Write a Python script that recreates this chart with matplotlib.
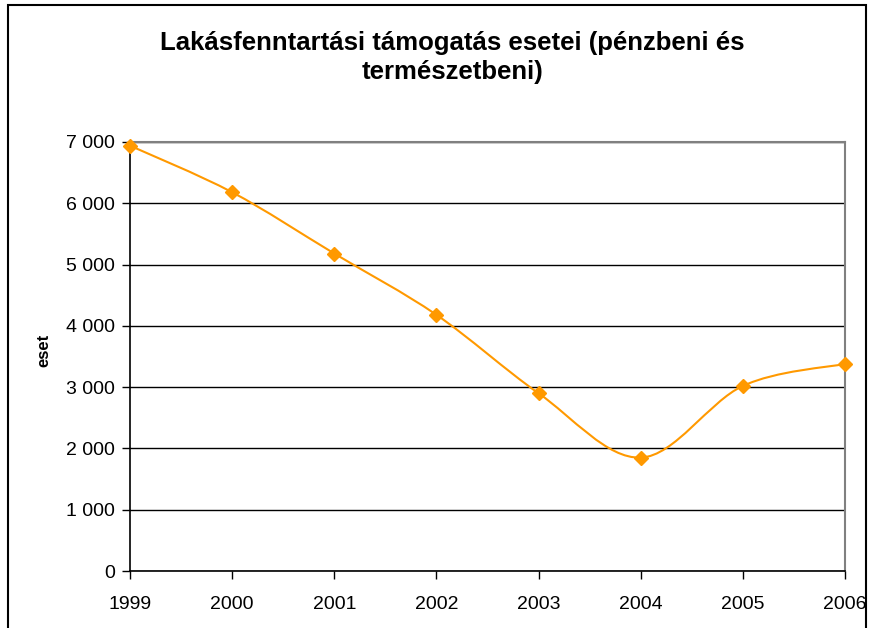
import numpy as np
import matplotlib.pyplot as plt
from matplotlib.path import Path
from matplotlib.patches import PathPatch, Rectangle

years = [1999, 2000, 2001, 2002, 2003, 2004, 2005, 2006]
cases = [6940, 6180, 5180, 4180, 2900, 1850, 3020, 3380]
yticks = [0, 1000, 2000, 3000, 4000, 5000, 6000, 7000]
ytick_labels = ["0", "1 000", "2 000", "3 000", "4 000", "5 000", "6 000", "7 000"]

title = "Lakásfenntartási támogatás esetei (pénzbeni és\ntermészetbeni)"
orange = "#FF9900"

plt.rcParams['font.family'] = ['Liberation Sans', 'DejaVu Sans']

fig = plt.figure(figsize=(8.69, 6.28), dpi=100)
W, H = 869, 628
ax = fig.add_axes([130 / W, (H - 571) / H, (845 - 130) / W, (571 - 142) / H])

# outer chart frame
fig.patches.append(Rectangle((8 / W, -0.1), (866 - 8) / W, (H - 5) / H + 0.1,
                             transform=fig.transFigure, fill=False,
                             edgecolor="black", linewidth=1.5))

# smoothed line: bezier segments through the points (excel style)
pts = np.column_stack([years, cases]).astype(float)
n = len(pts)
verts = [tuple(pts[0])]
codes = [Path.MOVETO]
for i in range(n - 1):
    p0 = pts[max(i - 1, 0)]
    p1 = pts[i]
    p2 = pts[i + 1]
    p3 = pts[min(i + 2, n - 1)]
    c1 = p1 + (p2 - p0) / 6
    c2 = p2 - (p3 - p1) / 6
    verts += [tuple(c1), tuple(c2), tuple(p2)]
    codes += [Path.CURVE4] * 3
ax.add_patch(PathPatch(Path(verts, codes), fill=False, edgecolor=orange,
                       linewidth=1.5, zorder=3, clip_on=False))
ax.plot(years, cases, linestyle="none", marker="D", markersize=7,
        color=orange, zorder=4, clip_on=False)

ax.set_xlim(1999, 2006)
ax.set_ylim(0, 7000)
ax.set_yticks(yticks)
ax.set_yticklabels(ytick_labels)
ax.set_xticks(years)
ax.tick_params(axis="both", direction="out", length=6, width=1, labelsize=14,
               color="black")
ax.tick_params(axis="x", pad=12)
ax.tick_params(axis="y", pad=5)
ax.grid(axis="y", color="black", linewidth=1)
ax.set_axisbelow(True)

for side in ["top", "right"]:
    ax.spines[side].set_color("#808080")
    ax.spines[side].set_linewidth(1.5)
for side in ["left", "bottom"]:
    ax.spines[side].set_color("black")
    ax.spines[side].set_linewidth(1.2)

ax.set_ylabel("eset", fontsize=12, fontweight="bold")
ax.yaxis.set_label_coords(-86 / (845 - 130), (571 - 350) / (571 - 142))
ax.yaxis.label.set_va("center")

fig.text(452 / W, 1 - 57.5 / H, title, ha="center", va="center",
         fontsize=18.5, fontweight="bold", linespacing=1.3)

fig.savefig("out.png", dpi=100)
